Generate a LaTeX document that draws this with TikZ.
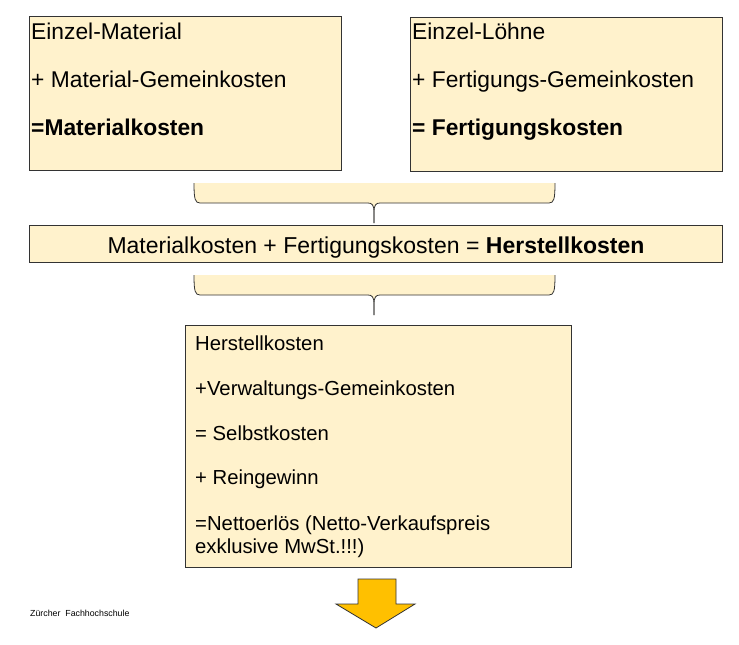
\documentclass[tikz,border=0pt]{standalone}
\usepackage{fontspec}
\setmainfont{Liberation Sans}
\definecolor{cream}{HTML}{FFF2CC}
\definecolor{edge}{HTML}{333333}
\definecolor{gold}{HTML}{FFC000}
\begin{document}
\begin{tikzpicture}[x=1pt,y=-1pt,
  box/.style={draw=edge,fill=cream,line width=0.8pt,rectangle,inner sep=0pt,anchor=north west},
  big/.style={font=\fontsize{22.8}{27}\selectfont,inner sep=0pt,anchor=base west},
  mid/.style={font=\fontsize{23}{27}\selectfont,inner sep=0pt,anchor=base},
  small/.style={font=\fontsize{20.3}{23}\selectfont,inner sep=0pt,anchor=base west},
  tiny/.style={font=\fontsize{8.8}{10}\selectfont,inner sep=0pt,anchor=base west},
  bracefill/.style={fill=cream,draw=none},
  braceline/.style={draw=edge,line width=0.8pt}]
\useasboundingbox (0,0) rectangle (739,645);
\fill[white] (0,0) rectangle (739,645);

% top boxes
\node[box,minimum width=312pt,minimum height=154pt] (mat) at (29,16) {};
\node[big] (mat1) at (31,39) {Einzel-Material};
\node[big] (mat2) at (31,87) {+ Material-Gemeinkosten};
\node[big] (mat3) at (31,135) {\bfseries =Materialkosten};

\node[box,minimum width=312pt,minimum height=154pt] (fer) at (410,17) {};
\node[big] (fer1) at (412,39) {Einzel-Löhne};
\node[big] (fer2) at (412,87) {+ Fertigungs-Gemeinkosten};
\node[big] (fer3) at (412,135) {\bfseries = Fertigungskosten};

% brace 1
\fill[bracefill] (194,183) .. controls (194,199) and (195,203) .. (200,203) -- (368,203)
  .. controls (372,203) and (374,205) .. (374,212) -- (374,223) -- (374,212)
  .. controls (374,205) and (376,203) .. (380,203) -- (549,203)
  .. controls (554,203) and (555,199) .. (555,183) -- cycle;
\draw[braceline] (194,183) .. controls (194,199) and (195,203) .. (200,203) -- (368,203)
  .. controls (372,203) and (374,205) .. (374,212) -- (374,223);
\draw[braceline] (374,223) -- (374,212)
  .. controls (374,205) and (376,203) .. (380,203) -- (549,203)
  .. controls (554,203) and (555,199) .. (555,183);

% middle bar
\node[box,minimum width=693pt,minimum height=37pt] (her) at (29,225) {};
\node[mid] (hertext) at (376,253) {Materialkosten + Fertigungskosten = \textbf{Herstellkosten}};

% brace 2
\fill[bracefill] (194,275) .. controls (194,291) and (195,295) .. (200,295) -- (368,295)
  .. controls (372,295) and (374,297) .. (374,304) -- (374,315) -- (374,304)
  .. controls (374,297) and (376,295) .. (380,295) -- (549,295)
  .. controls (554,295) and (555,291) .. (555,275) -- cycle;
\draw[braceline] (194,275) .. controls (194,291) and (195,295) .. (200,295) -- (368,295)
  .. controls (372,295) and (374,297) .. (374,304) -- (374,315);
\draw[braceline] (374,315) -- (374,304)
  .. controls (374,297) and (376,295) .. (380,295) -- (549,295)
  .. controls (554,295) and (555,291) .. (555,275);

% bottom box
\node[box,minimum width=386pt,minimum height=242pt] (net) at (185,325) {};
\node[small] (net1) at (195,350) {Herstellkosten};
\node[small] (net2) at (195,395) {+Verwaltungs-Gemeinkosten};
\node[small] (net3) at (195,440) {= Selbstkosten};
\node[small] (net4) at (195,484) {+ Reingewinn};
\node[small] (net5) at (195,530) {=Nettoerlös (Netto-Verkaufspreis};
\node[small] (net6) at (195,553) {exklusive MwSt.!!!)};

% arrow
\draw[fill=gold,draw=edge,line width=0.8pt,line join=miter]
  (358,579) -- (396,579) -- (396,604) -- (415,604) -- (376,628) -- (336,604) -- (358,604) -- cycle;

% footer
\node[tiny] (foot) at (30,616) {Zürcher\ \ Fachhochschule};
\end{tikzpicture}
\end{document}
